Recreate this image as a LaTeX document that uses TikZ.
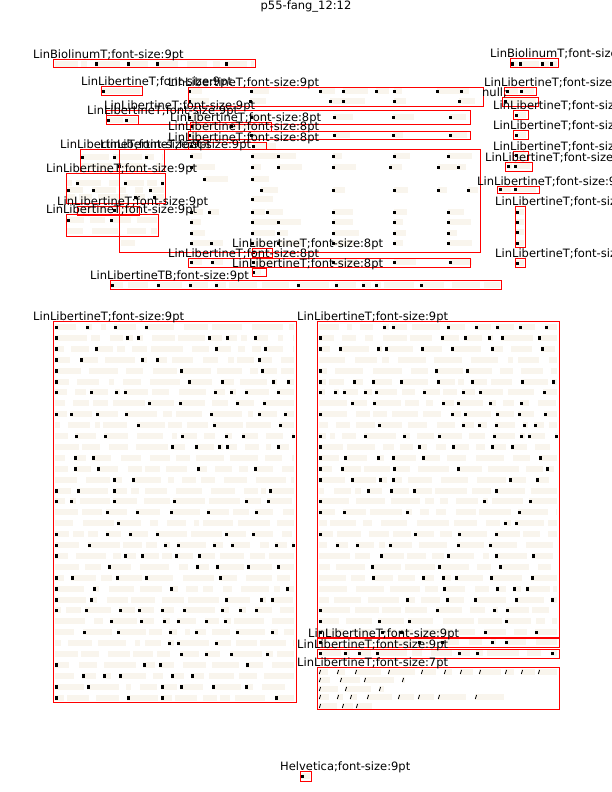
\documentclass[tikz,border=0pt]{standalone}
\usepackage{fontspec}
\usepackage{xcolor}
\newfontfamily\labfont{DejaVu Sans}
\definecolor{paper}{RGB}{249,245,237}
\definecolor{boxred}{RGB}{255,0,0}

\newcommand\glyphmark[2]{\fill[black] (#1,#2-1.5) rectangle ++(2.5,3.5);}
\newcommand\slashmark[2]{\draw[black,line width=0.8bp] (#1+0.3,#2+2) -- (#1+1.6,#2-2);}
% one line of words: left, right, row, mark macro, mark odds
\newcommand\wordline[5]{%
  \xdef\wx{#1}%
  \foreach \k in {1,...,30}{%
    \pgfmathrandominteger\ww{5}{32}%
    \pgfmathrandominteger\wg{3}{10}%
    \pgfmathrandominteger\wp{0}{#5}%
    \ifdim\wx pt<#2pt
      \pgfmathsetmacro\we{min(\wx+\ww,#2)}%
      \fill[paper] (\wx,#3-3) rectangle (\we,#3+3);
      \ifnum\wp=0 #4{\wx}{#3}\fi
      \pgfmathsetmacro\wn{\we+\wg}%
      \xdef\wx{\wn}%
    \fi
  }%
}

\begin{document}
\begin{tikzpicture}[x=1bp,y=-1bp,
    redbox/.style={draw=boxred,line width=1bp},
    lab/.style={font={\labfont\fontsize{11.5bp}{13bp}\selectfont},anchor=base west,inner sep=0pt}]
  \useasboundingbox[fill=white] (0,0) rectangle (612,792);
  \clip (0,0) rectangle (612,792);
  \pgfmathsetseed{12}

  % words
  \foreach \r in {0,...,34}{\pgfmathsetmacro\ry{327+\r*10.9}\wordline{55}{294}{\ry}{\glyphmark}{1}}
  \foreach \r in {0,...,28}{\pgfmathsetmacro\ry{327+\r*10.9}\wordline{319}{557}{\ry}{\glyphmark}{1}}
  \wordline{319}{557}{642}{\glyphmark}{1}
  \wordline{319}{557}{653}{\glyphmark}{1}
  \foreach \y/\xe in {672/557,680/405,689/384,697/505,706/372}{\wordline{319}{\xe}{\y}{\slashmark}{0}}
  \wordline{55}{254}{64}{\glyphmark}{1}
  \wordline{111}{500}{285}{\glyphmark}{1}
  \foreach \y/\xa/\xe in {157/81/163,166/81/163,183/67/164,190/67/164,197/67/164,
      210/78/138,220/67/157,231/67/157,243/121/135}{\wordline{\xa}{\xe}{\y}{\glyphmark}{1}}
  \foreach \y/\cols in {91/{188,250,319,342,375,393,436,460},101/{188,249,329,342,393,458},
      117/{188,250,333,392,449},126/{190,230},135/{188,250,333,392,449},146/{190,252},
      156/{190,251,277,332,393,447},167/{190,251,277,332,389,437,457},179/{203,251},
      190/{260,332,393,437,467},199/{251},212/{190,208,251,266,332,393,447},
      222/{190,251,277,332,393,447},233/{190,251,277,332,393,447},
      243/{190,210,251,277,332,393,447},252/{252},262/{190,211,252,332,393,449},272/{252}}{
    \foreach \x in \cols{
      \pgfmathrandominteger\ww{8}{26}
      \pgfmathsetmacro\we{min(\x+1+\ww,478)}
      \fill[paper] (\x+1,\y-3) rectangle (\we,\y+3);
      \glyphmark{\x}{\y}
    }
  }
  \foreach \y/\x/\w in {64/511/7,64/519/20,64/541/8,64/550/7,91/102/38,91/506/12,91/520/14,
      101/504/32,120/107/16,120/125/12,115/515/11,135/515/11,155/515/11,166/507/5,166/514/16,
      189/499/12,189/514/22,212/516/8,222/516/8,232/516/8,243/516/8,263/516/8,776/301/9}{
    \fill[paper] (\x,\y-3) rectangle ++(\w,6);
    \glyphmark{\x}{\y}
  }

  % boxes
  \draw[redbox] (53,60) rectangle (255,68);
  \draw[redbox] (510,59) rectangle (558,68);
  \draw[redbox] (101,86) rectangle (142,95);
  \draw[redbox] (188,87) rectangle (483,106);
  \draw[redbox] (504,87) rectangle (536,95);
  \draw[redbox] (502,97) rectangle (538,106);
  \draw[redbox] (513,110) rectangle (528,119);
  \draw[redbox] (513,130) rectangle (528,139);
  \draw[redbox] (513,151) rectangle (528,160);
  \draw[redbox] (505,162) rectangle (532,171);
  \draw[redbox] (497,186) rectangle (539,193);
  \draw[redbox] (515,206) rectangle (525,247);
  \draw[redbox] (515,258) rectangle (525,267);
  \draw[redbox] (106,110) rectangle (470,124);
  \draw[redbox] (106,115) rectangle (138,124);
  \draw[redbox] (190,122) rectangle (271,131);
  \draw[redbox] (188,131) rectangle (470,139);
  \draw[redbox] (188,142) rectangle (266,149);
  \draw[redbox] (80,149) rectangle (164,171);
  \draw[redbox] (119,149) rectangle (480,252);
  \draw[redbox] (66,173) rectangle (165,203);
  \draw[redbox] (77,206) rectangle (139,215);
  \draw[redbox] (66,214) rectangle (158,236);
  \draw[redbox] (252,248) rectangle (272,257);
  \draw[redbox] (188,258) rectangle (470,267);
  \draw[redbox] (252,268) rectangle (266,276);
  \draw[redbox] (110,280) rectangle (501,289);
  \draw[redbox] (53,321) rectangle (296,702);
  \draw[redbox] (317,321) rectangle (559,637);
  \draw[redbox] (317,638) rectangle (559,647);
  \draw[redbox] (317,649) rectangle (559,658);
  \draw[redbox] (317,667) rectangle (559,709);
  \draw[redbox] (300,771) rectangle (311,781);

  % labels
  \node[lab,anchor=base] (title) at (306,10) {p55-fang\_12:12};
  \node[lab] (bioA) at (33,59) {LinBiolinumT;font-size:9pt};
  \node[lab] (bioB) at (490,58) {LinBiolinumT;font-size:9pt};
  \node[lab] (libA) at (81,85) {LinLibertineT;font-size:9pt};
  \node[lab] (libB) at (168,86) {LinLibertineT;font-size:9pt};
  \node[lab] (libC) at (484,86) {LinLibertineT;font-size:9pt};
  \node[lab] (nul)  at (482,96) {null;};
  \node[lab] (libD) at (493,109) {LinLibertineT;font-size:9pt};
  \node[lab] (libE) at (493,129) {LinLibertineT;font-size:9pt};
  \node[lab] (libF) at (493,150) {LinLibertineT;font-size:9pt};
  \node[lab] (libG) at (485,161) {LinLibertineT;font-size:9pt};
  \node[lab] (libH) at (477,185) {LinLibertineT;font-size:9pt};
  \node[lab] (libI) at (495,205) {LinLibertineT;font-size:9pt};
  \node[lab] (libJ) at (495,257) {LinLibertineT;font-size:9pt};
  \node[lab] (libK) at (104,109) {LinLibertineT;font-size:9pt};
  \node[lab] (libL) at (87,114) {LinLibertineT;font-size:9pt};
  \node[lab] (libM) at (170,121) {LinLibertineT;font-size:8pt};
  \node[lab] (libN) at (168,130) {LinLibertineT;font-size:8pt};
  \node[lab] (libO) at (168,141) {LinLibertineT;font-size:8pt};
  \node[lab] (libP) at (60,148) {LinLibertineT;font-size:9pt};
  \node[lab] (libQ) at (100,148) {LinLibertineT;font-size:9pt};
  \node[lab] (libR) at (46,172) {LinLibertineT;font-size:9pt};
  \node[lab] (libS) at (57,205) {LinLibertineT;font-size:9pt};
  \node[lab] (libT) at (46,213) {LinLibertineT;font-size:9pt};
  \node[lab] (libU) at (232,247) {LinLibertineT;font-size:8pt};
  \node[lab] (libV) at (168,257) {LinLibertineT;font-size:8pt};
  \node[lab] (libW) at (232,267) {LinLibertineT;font-size:8pt};
  \node[lab] (libTB) at (90,279) {LinLibertineTB;font-size:9pt};
  \node[lab] (colA) at (33,320) {LinLibertineT;font-size:9pt};
  \node[lab] (colB) at (297,320) {LinLibertineT;font-size:9pt};
  \node[lab] (colC) at (308,637) {LinLibertineT;font-size:9pt};
  \node[lab] (colD) at (297,648) {LinLibertineT;font-size:9pt};
  \node[lab] (colE) at (297,666) {LinLibertineT;font-size:7pt};
  \node[lab] (helv) at (280,770) {Helvetica;font-size:9pt};
\end{tikzpicture}
\end{document}
